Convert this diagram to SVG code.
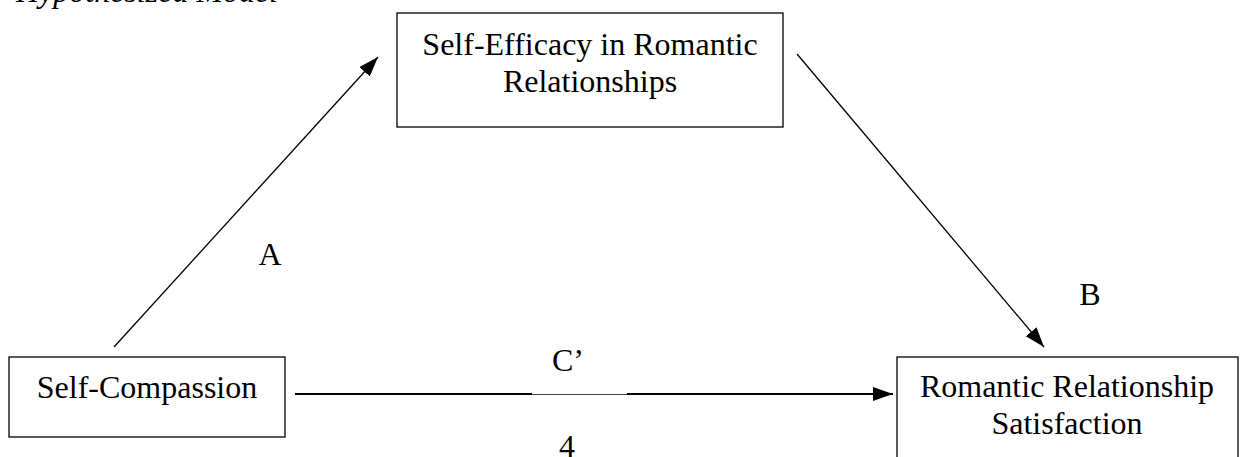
<svg xmlns="http://www.w3.org/2000/svg" width="1243" height="457" viewBox="0 0 1243 457">
  <style>
    .box { fill: #ffffff; stroke: #000000; stroke-width: 1.3; }
    .txt { font-family: "Liberation Serif", "Times New Roman", serif; font-size: 32px; fill: #000000; }
    .lbl { font-family: "Liberation Serif", "Times New Roman", serif; font-size: 32px; fill: #000000; }
    .conn { stroke: #000000; stroke-width: 1.3; fill: none; }
    .thick { stroke: #000000; stroke-width: 2; fill: none; }
    .thin { stroke: #444444; stroke-width: 1; fill: none; }
  </style>
  <defs>
    <marker id="arrow" markerUnits="userSpaceOnUse" markerWidth="22" markerHeight="16" refX="20" refY="7" orient="auto">
      <path d="M0,0 L20,7 L0,14 z" fill="#000000"/>
    </marker>
  </defs>
  <rect width="1243" height="457" fill="#ffffff"/>

  <text class="txt" x="16" y="2" font-style="italic">Hypothesized Model</text>

  <g id="connectors">
    <line class="conn" x1="114" y1="347" x2="378" y2="57" marker-end="url(#arrow)"/>
    <line class="conn" x1="797" y1="54" x2="1044" y2="347" marker-end="url(#arrow)"/>
    <line class="thick" x1="295" y1="394" x2="532" y2="394"/>
    <line class="thin" x1="532" y1="394.5" x2="627" y2="394.5"/>
    <line class="thick" x1="627" y1="394" x2="893" y2="394" marker-end="url(#arrow)"/>
    <text class="lbl" x="270" y="265" text-anchor="middle">A</text>
    <text class="lbl" x="1090" y="305" text-anchor="middle">B</text>
    <text class="lbl" x="552" y="371">C’</text>
    <text class="lbl" x="567" y="457" text-anchor="middle">4</text>
  </g>

  <g id="node-efficacy">
    <rect class="box" x="397" y="13" width="386" height="114"/>
    <text class="txt" x="590" y="55" text-anchor="middle">Self-Efficacy in Romantic</text>
    <text class="txt" x="590" y="92" text-anchor="middle">Relationships</text>
  </g>

  <g id="node-compassion">
    <rect class="box" x="9" y="357" width="276" height="80"/>
    <text class="txt" x="147" y="398" text-anchor="middle">Self-Compassion</text>
  </g>

  <g id="node-satisfaction">
    <rect class="box" x="897" y="357" width="341" height="120"/>
    <text class="txt" x="1067" y="397" text-anchor="middle">Romantic Relationship</text>
    <text class="txt" x="1067" y="434" text-anchor="middle">Satisfaction</text>
  </g>
</svg>
